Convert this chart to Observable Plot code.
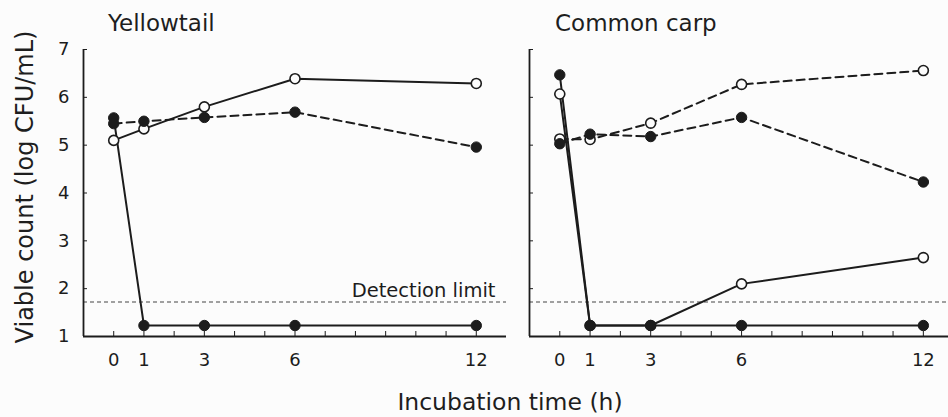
<!DOCTYPE html>
<html>
<head>
<meta charset="utf-8">
<script src="https://cdn.jsdelivr.net/npm/d3@7"></script>
<script src="https://cdn.jsdelivr.net/npm/@observablehq/plot@0.6"></script>
<style>
html, body { margin: 0; padding: 0; background: #fcfcfc; overflow: hidden; }
#wrap { position: relative; width: 948px; height: 417px; font-family: "DejaVu Sans", sans-serif; color: #1e1e1e; }
.lbl { position: absolute; white-space: nowrap; line-height: 1; }
.panel { position: absolute; top: 0; }
</style>
</head>
<body>
<div id="wrap">
  <div id="left" class="panel" style="left:0px"></div>
  <div id="right" class="panel" style="left:510px"></div>
  <div class="lbl" style="left:108px; top:11.5px; font-size:23px">Yellowtail</div>
  <div class="lbl" style="left:555px; top:11.5px; font-size:23px">Common carp</div>
  <div class="lbl" style="left:510px; top:391px; font-size:23.5px; transform:translateX(-50%)">Incubation time (h)</div>
  <div class="lbl" style="left:24.7px; top:187px; font-size:24px; transform:translate(-50%,-50%) rotate(-90deg)">Viable count (log CFU/mL)</div>
</div>
<script>
// ---- data ----
const hours = [0, 1, 3, 6, 12];
const xLabelTicks = [0, 1, 3, 6, 12];
const xMinorTicks = [0, 1, 2, 3, 4, 5, 6, 7, 8, 9, 10, 11, 12];
const yTicks = [1, 2, 3, 4, 5, 6, 7];
const detectionLimit = 1.72;

// Yellowtail
const yellowtailOpenSolid   = [5.10, 5.34, 5.80, 6.39, 6.29];
const yellowtailFilledSolid = [5.57, 1.23, 1.23, 1.23, 1.23];
const yellowtailFilledDashed = [5.45, 5.50, 5.58, 5.69, 4.96];

// Common carp
const carpFilledSolid  = [6.47, 1.23, 1.23, 1.23, 1.23];
const carpOpenSolid    = [6.07, 1.23, 1.23, 2.10, 2.65];
const carpFilledDashed = [5.03, 5.23, 5.18, 5.58, 4.23];
const carpOpenDashed   = [5.13, 5.12, 5.46, 6.27, 6.56];

const ink = "#1c1c1c";
const bg = "#fcfcfc";

function rows(name, values, filled, dashed) {
  return hours.map((h, i) => ({series: name, hour: h, count: values[i], filled, dashed}));
}

const yellowtail = [
  ...rows("openSolid", yellowtailOpenSolid, false, false),
  ...rows("filledSolid", yellowtailFilledSolid, true, false),
  ...rows("filledDashed", yellowtailFilledDashed, true, true)
];
const carp = [
  ...rows("filledSolid", carpFilledSolid, true, false),
  ...rows("openSolid", carpOpenSolid, false, false),
  ...rows("filledDashed", carpFilledDashed, true, true),
  ...rows("openDashed", carpOpenDashed, false, true)
];

function panel(data, {width, marginLeft, marginRight, xMax, showYLabels, showDetection}) {
  return Plot.plot({
    width, height: 417,
    marginLeft, marginRight, marginTop: 49, marginBottom: 81,
    style: {background: "transparent", fontFamily: "DejaVu Sans, sans-serif", fontSize: "18px", color: ink, overflow: "visible"},
    x: {domain: [-1, xMax], axis: null},
    y: {domain: [1, 7], axis: null},
    marks: [
      Plot.ruleY([detectionLimit], {stroke: "#444", strokeWidth: 1.1, strokeDasharray: "4,3"}),
      showDetection ? Plot.text([detectionLimit], {x: () => 13, y: d => d, text: () => "Detection limit", textAnchor: "end", lineAnchor: "bottom", dx: -11, dy: -5.5, fontSize: 19.5, fill: ink}) : null,
      Plot.line(data.filter(d => !d.dashed), {x: "hour", y: "count", z: "series", stroke: ink, strokeWidth: 2}),
      Plot.line(data.filter(d => d.dashed), {x: "hour", y: "count", z: "series", stroke: ink, strokeWidth: 2, strokeDasharray: "8,5"}),
      Plot.dot(data.filter(d => !d.filled), {x: "hour", y: "count", r: 5, fill: bg, stroke: ink, strokeWidth: 1.6}),
      Plot.dot(data.filter(d => d.filled), {x: "hour", y: "count", r: 5.2, fill: ink, stroke: ink, strokeWidth: 1}),
      Plot.ruleX([-1], {stroke: ink, strokeWidth: 1.8}),
      Plot.ruleY([1], {stroke: ink, strokeWidth: 1.8}),
      Plot.axisY(yTicks, {tickSize: -4, tickPadding: 18, fontSize: 18, label: null, stroke: ink, fill: ink,
        tickFormat: showYLabels ? (d => d) : (() => "")}),
      Plot.axisX(xMinorTicks, {tickSize: -5, label: null, stroke: ink, tickFormat: () => ""}),
      Plot.axisX(xLabelTicks, {tickSize: 0, tickPadding: 17, fontSize: 18, label: null, fill: ink})
    ]
  });
}

document.getElementById("left").append(panel(yellowtail, {width: 510, marginLeft: 83, marginRight: 4, xMax: 13, showYLabels: true, showDetection: true}));
document.getElementById("right").append(panel(carp, {width: 438, marginLeft: 19, marginRight: 0, xMax: 12.83, showYLabels: false, showDetection: false}));
</script>
</body>
</html>
